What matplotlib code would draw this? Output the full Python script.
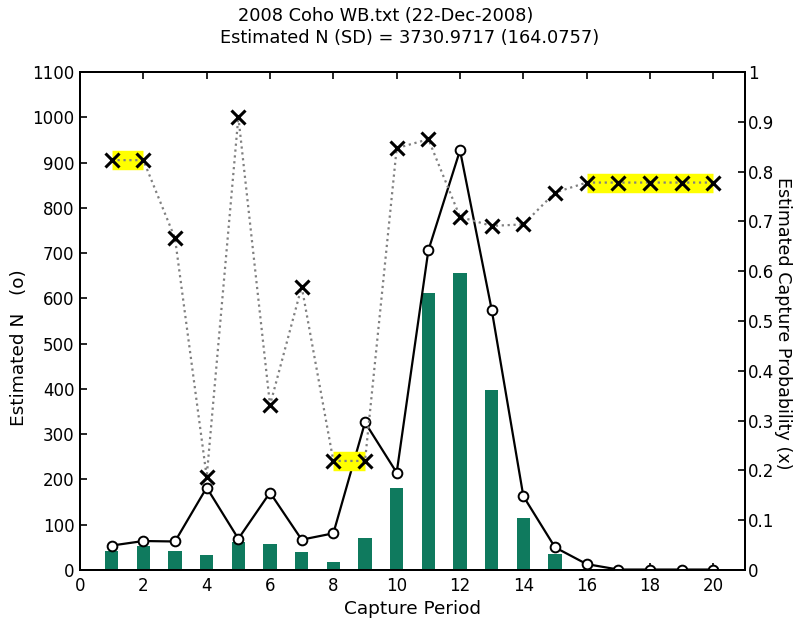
import matplotlib
matplotlib.use("Agg")
import matplotlib.pyplot as plt
import numpy as np

plt.rcParams['font.family'] = ['DejaVu Sans']

periods = list(range(1, 21))
catch_n = [43, 52, 43, 34, 62, 57, 40, 18, 71, 181, 611, 655, 397, 115, 35, 0, 0, 0, 0, 0]
est_n = [54, 64, 63, 182, 69, 171, 67, 81, 326, 215, 706, 927, 575, 163, 50, 13, 1, 1, 1, 1]
cap_p = [0.823, 0.823, 0.666, 0.187, 0.910, 0.331, 0.569, 0.219, 0.219, 0.847,
         0.865, 0.709, 0.691, 0.694, 0.758, 0.778, 0.778, 0.778, 0.778, 0.778]
pooled_groups = [(1, 2), (8, 9), (16, 20)]

title1 = "2008 Coho WB.txt (22-Dec-2008)"
title2 = "Estimated N (SD) = 3730.9717 (164.0757)"

fig = plt.figure(figsize=(7.93, 6.25), dpi=100)
ax = fig.add_axes([0.1009, 0.088, 0.8386, 0.7968])
ax2 = ax.twinx()

fs = 12
fl = 13.3
ax.bar(periods, catch_n, width=0.42, color='#0f7a5e', zorder=2)
ax.plot(periods, est_n, '-', color='black', lw=1.6, marker='o', ms=7,
        mfc='white', mec='black', mew=1.4, zorder=3)
ax.set_xlim(0, 21)
ax.set_ylim(0, 1100)
ax.set_xticks(range(0, 21, 2))
ax.set_yticks(range(0, 1101, 100))
ax.tick_params(axis='both', direction='in', length=5, width=1.2, labelsize=fs,
               top=True)
ax.tick_params(axis='x', pad=5)
ax.tick_params(axis='y', pad=4)

for a, b in pooled_groups:
    xs = [p for p in periods if a <= p <= b]
    ys = [cap_p[p - 1] for p in xs]
    ax2.plot(xs, ys, '-', color='#ffff00', lw=14, solid_capstyle='butt', zorder=1)
ax2.plot(periods, cap_p, ':', color='#808080', lw=1.6, zorder=2)
ax2.plot(periods, cap_p, 'x', color='black', ms=10, mew=2.2, zorder=3)
ax2.set_ylim(0, 1)
ax2.set_yticks(np.arange(0, 1.01, 0.1))
ax2.set_yticklabels(['0', '0.1', '0.2', '0.3', '0.4', '0.5', '0.6', '0.7', '0.8', '0.9', '1'])
ax2.tick_params(axis='y', direction='in', length=5, width=1.2, labelsize=fs, pad=2)
ax2.set_xlim(0, 21)

for a_ in (ax, ax2):
    for s in a_.spines.values():
        s.set_linewidth(1.4)

W, H = 793, 625
fig.text(386 / W, 1 - 16 / H, title1, ha='center', va='center', fontsize=12.8)
fig.text(410 / W, 1 - 38 / H, title2, ha='center', va='center', fontsize=12.8)
fig.text(412 / W, 1 - 609 / H, "Capture Period", ha='center', va='center', fontsize=fl)
fig.text(19 / W, 1 - 348 / H, "Estimated N   (o)", ha='center', va='center',
         rotation=90, fontsize=fl)
fig.text(783 / W, 1 - 323 / H, "Estimated Capture Probability (x)", ha='center',
         va='center', rotation=-90, fontsize=12.6)

fig.savefig("out.png", dpi=100)
